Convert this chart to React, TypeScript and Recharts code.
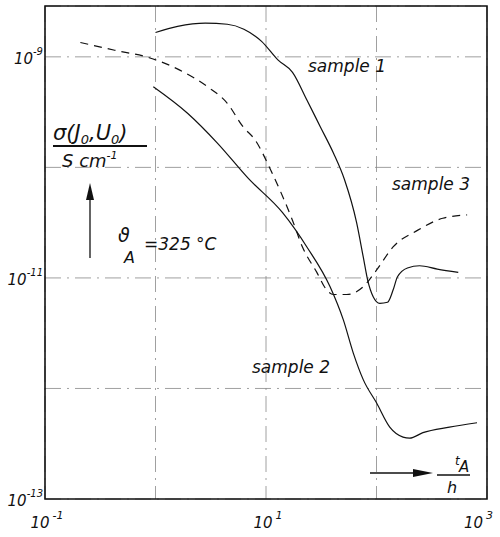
import React from 'react';
import { LineChart, Line, XAxis, YAxis, CartesianGrid, ReferenceArea } from 'recharts';

// values are log10 of t_A/h (x) and log10 of sigma/(S cm^-1) (y)
const xTicks = [-1, 0, 1, 2, 3];
const yTicks = [-13, -12, -11, -10, -9];
const xLabelled = [-1, 1, 3];
const yLabelled = [-13, -11, -9];

const sample1X = [0.0, 0.2, 0.45, 0.65, 0.8, 0.96, 1.11, 1.24, 1.37, 1.49, 1.61, 1.71, 1.82, 1.88, 1.92, 1.97, 2.03, 2.1, 2.15, 2.19, 2.28, 2.39, 2.55, 2.74];
const sample1Y = [-8.78, -8.725, -8.695, -8.705, -8.75, -8.86, -9.03, -9.14, -9.39, -9.63, -9.87, -10.11, -10.5, -10.81, -11.02, -11.17, -11.23, -11.22, -11.11, -10.99, -10.91, -10.89, -10.92, -10.95];

const sample2X = [-0.02, 0.29, 0.56, 0.84, 1.15, 1.37, 1.58, 1.7, 1.79, 1.88, 2.0, 2.12, 2.24, 2.3, 2.42, 2.66, 2.91];
const sample2Y = [-9.27, -9.51, -9.78, -10.1, -10.41, -10.72, -11.08, -11.38, -11.68, -11.92, -12.13, -12.35, -12.44, -12.45, -12.4, -12.35, -12.31];

const sample3X = [-0.68, -0.37, -0.05, 0.22, 0.47, 0.65, 0.79, 0.9, 1.05, 1.24, 1.33, 1.46, 1.55, 1.61, 1.73, 1.88, 2.0, 2.15, 2.37, 2.6, 2.82];
const sample3Y = [-8.87, -8.94, -9.01, -9.12, -9.27, -9.42, -9.63, -9.75, -10.04, -10.48, -10.72, -10.95, -11.11, -11.15, -11.15, -11.08, -10.93, -10.72, -10.57, -10.46, -10.43];

const toPoints = (xs: number[], ys: number[]) => xs.map((x, i) => ({ x, y: ys[i] }));
const sample1 = toPoints(sample1X, sample1Y);
const sample2 = toPoints(sample2X, sample2Y);
const sample3 = toPoints(sample3X, sample3Y);

const font = '"DejaVu Sans", sans-serif';

const YTick = (props: any) => {
  const { x, y, payload } = props;
  if (!yLabelled.includes(payload.value)) return null;
  return (
    <text x={x} y={y + 7} textAnchor="end" fontFamily={font} fontStyle="italic" fill="#111">
      <tspan fontSize={15}>10</tspan>
      <tspan fontSize={10} dy={-9}>{payload.value}</tspan>
    </text>
  );
};

const XTick = (props: any) => {
  const { x, y, payload } = props;
  if (!xLabelled.includes(payload.value)) return null;
  const last = payload.value === 3;
  return (
    <text x={last ? x + 6 : x + 2} y={y + 27} textAnchor={last ? 'end' : 'middle'}
      fontFamily={font} fontStyle="italic" fill="#111">
      <tspan fontSize={15}>10</tspan>
      <tspan fontSize={11} dx={3} dy={-9}>{payload.value}</tspan>
    </text>
  );
};

const Notes = () => (
  <svg width={500} height={537} style={{ position: 'absolute', left: 0, top: 0, pointerEvents: 'none' }}
    fontFamily={font} fontStyle="italic" fill="#111">
    <text x={308} y={72} fontSize={17}>sample 1</text>
    <text x={392} y={190} fontSize={17}>sample 3</text>
    <text x={252} y={373} fontSize={17}>sample 2</text>

    <text x={53} y={140} fontSize={21}>
      σ(J<tspan fontSize={13} dy={4}>0</tspan><tspan dy={-4}>,U</tspan><tspan fontSize={13} dy={4}>0</tspan><tspan dy={-4}>)</tspan>
    </text>
    <line x1={53} y1={146} x2={147} y2={146} stroke="#111" strokeWidth={2} />
    <text x={62} y={167} fontSize={18}>
      S cm<tspan fontSize={11} dy={-8}>-1</tspan>
    </text>

    <line x1={90} y1={258} x2={90} y2={195} stroke="#111" strokeWidth={1.3} />
    <polygon points="90,183 86,200 94,200" fill="#111" />
    <text x={118} y={242} fontSize={19}>ϑ</text>
    <text x={124} y={263} fontSize={16}>A</text>
    <text x={144} y={250} fontSize={17}>=325 °C</text>

    <line x1={370} y1={473} x2={415} y2={473} stroke="#111" strokeWidth={1.3} />
    <polygon points="433,473 413,469 413,477" fill="#111" />
    <text x={455} y={465} fontSize={12}>t</text>
    <text x={459} y={472} fontSize={15}>A</text>
    <line x1={437} y1={475} x2={470} y2={475} stroke="#111" strokeWidth={1.5} />
    <text x={447} y={493} fontSize={16}>h</text>
  </svg>
);

export default function App() {
  return (
    <div style={{ position: 'absolute', left: 0, top: 0, width: 500, height: 537, background: '#fff' }}>
      <LineChart width={500} height={537} margin={{ top: 6, right: 13, bottom: 0, left: 0 }}>
        <CartesianGrid stroke="#888" strokeWidth={0.8} strokeDasharray="16 6 2 6" />
        <XAxis type="number" dataKey="x" domain={[-1, 3]} ticks={xTicks} allowDataOverflow
          height={38} axisLine={false} tickLine={false} tickSize={0} tickMargin={2} tick={<XTick />} />
        <YAxis type="number" dataKey="y" domain={[-13, -8.54]} ticks={yTicks} allowDataOverflow
          width={45} axisLine={false} tickLine={false} tickSize={0} tickMargin={2} tick={<YTick />} />
        <ReferenceArea x1={-1} x2={3} y1={-13} y2={-8.54} fill="none" stroke="#111" strokeWidth={1.6} ifOverflow="visible" />
        <Line data={sample1} dataKey="y" type="monotone" stroke="#111" strokeWidth={1.2} dot={false} isAnimationActive={false} />
        <Line data={sample2} dataKey="y" type="monotone" stroke="#111" strokeWidth={1.2} dot={false} isAnimationActive={false} />
        <Line data={sample3} dataKey="y" type="monotone" stroke="#111" strokeWidth={1.2} strokeDasharray="8 6" dot={false} isAnimationActive={false} />
      </LineChart>
      <Notes />
    </div>
  );
}
